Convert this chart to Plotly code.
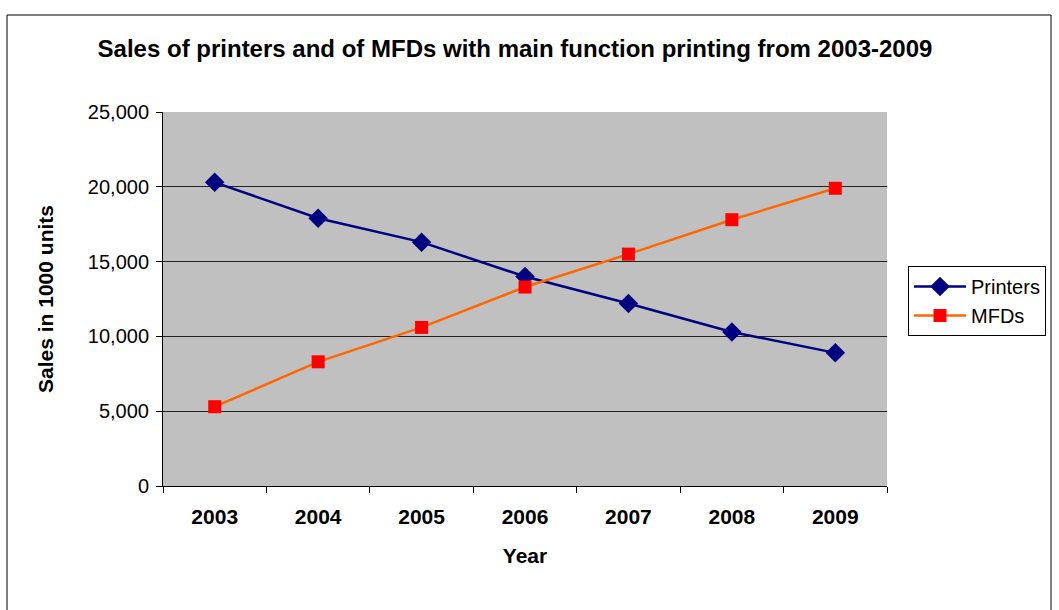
import plotly.graph_objects as go

years = ["2003", "2004", "2005", "2006", "2007", "2008", "2009"]
printers = [20300, 17900, 16300, 14000, 12200, 10300, 8900]
mfds = [5300, 8300, 10600, 13300, 15500, 17800, 19900]
y_ticks = [0, 5000, 10000, 15000, 20000, 25000]
y_tick_text = ["0", "5,000", "10,000", "15,000", "20,000", "25,000"]

FONT = "Liberation Sans, Arial, sans-serif"

fig = go.Figure()
fig.add_trace(go.Scatter(
    x=years, y=printers, name="Printers", mode="lines+markers",
    line=dict(color="#000080", width=2.5),
    marker=dict(symbol="diamond", size=15, color="#000080"),
))
fig.add_trace(go.Scatter(
    x=years, y=mfds, name="MFDs", mode="lines+markers",
    line=dict(color="#FF6600", width=2.5),
    marker=dict(symbol="square", size=13, color="#FF0000"),
))

W, H = 1059, 610
L, R, T, B = 163, 887, 112, 486

def px(x):
    return (x - L) / (R - L)

def py(y):
    return (B - y) / (B - T)

fig.update_layout(
    width=W, height=H,
    margin=dict(l=L, r=W - R, t=T, b=H - B, autoexpand=False),
    paper_bgcolor="white",
    plot_bgcolor="#C0C0C0",
    font=dict(family=FONT, color="black", size=20),
    title=dict(
        text="<b>Sales of printers and of MFDs with main function printing from 2003-2009</b>",
        x=px(515), xref="paper", xanchor="center",
        y=1 - 49 / H, yanchor="middle",
        font=dict(size=24, family=FONT),
    ),
    xaxis=dict(
        type="category", tickson="boundaries",
        showgrid=False, showline=True, linecolor="black", linewidth=1,
        ticks="outside", ticklen=6, tickcolor="black",
        tickfont=dict(size=21, family=FONT),
        tickprefix="<b>", ticksuffix="</b>",
        ticklabelstandoff=12,
        title=dict(text="<b>Year</b>", font=dict(size=21), standoff=21),
        range=[-0.5, 6.5],
    ),
    yaxis=dict(
        range=[0, 25000], tickvals=y_ticks, ticktext=y_tick_text,
        showgrid=True, gridcolor="#222222", gridwidth=1,
        showline=True, linecolor="black", linewidth=1,
        ticks="outside", ticklen=6, tickcolor="black",
        tickfont=dict(size=20, family=FONT),
        ticklabelstandoff=3,
        zeroline=False,
        title=dict(text="<b>Sales in 1000 units</b>", font=dict(size=21), standoff=28),
    ),
    legend=dict(
        x=px(908), y=py(266), xanchor="left", yanchor="top",
        bgcolor="white", bordercolor="black", borderwidth=1,
        font=dict(size=20, family=FONT),
        itemwidth=52, tracegroupgap=4,
    ),
    showlegend=True,
)

# Outer chart border
fig.add_shape(
    type="rect", xref="paper", yref="paper",
    x0=px(7), x1=px(1051), y0=py(625), y1=py(15),
    line=dict(color="black", width=1), layer="below",
)

fig.write_html("out.html")
